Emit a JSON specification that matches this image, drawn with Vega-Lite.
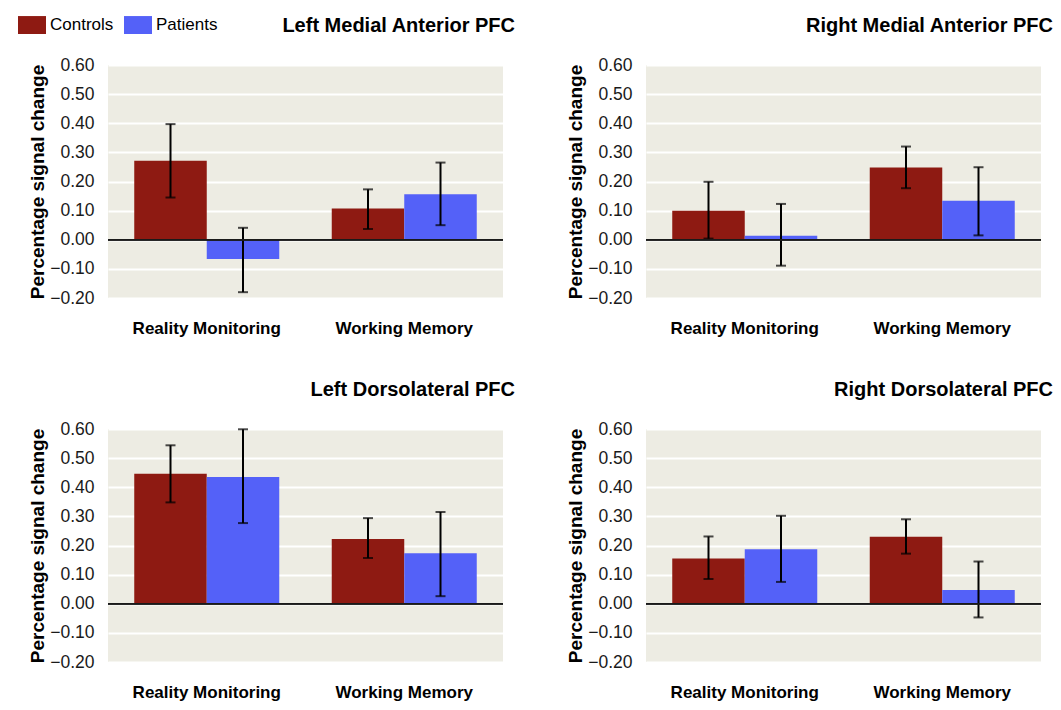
{
  "$schema": "https://vega.github.io/schema/vega-lite/v6.json",
  "padding": {"left": 18, "top": 11, "right": 0, "bottom": 5},
  "background": "white",
  "data": {"values": [
    {"panel": "LMA", "task": "Reality Monitoring", "group": "Controls", "value": 0.271, "lo": 0.145, "hi": 0.397},
    {"panel": "LMA", "task": "Reality Monitoring", "group": "Patients", "value": -0.066, "lo": -0.18, "hi": 0.041},
    {"panel": "LMA", "task": "Working Memory", "group": "Controls", "value": 0.107, "lo": 0.037, "hi": 0.173},
    {"panel": "LMA", "task": "Working Memory", "group": "Patients", "value": 0.156, "lo": 0.05, "hi": 0.265},
    {"panel": "RMA", "task": "Reality Monitoring", "group": "Controls", "value": 0.10, "lo": 0.004, "hi": 0.199},
    {"panel": "RMA", "task": "Reality Monitoring", "group": "Patients", "value": 0.014, "lo": -0.089, "hi": 0.123},
    {"panel": "RMA", "task": "Working Memory", "group": "Controls", "value": 0.248, "lo": 0.177, "hi": 0.32},
    {"panel": "RMA", "task": "Working Memory", "group": "Patients", "value": 0.134, "lo": 0.015, "hi": 0.249},
    {"panel": "LDL", "task": "Reality Monitoring", "group": "Controls", "value": 0.446, "lo": 0.348, "hi": 0.544},
    {"panel": "LDL", "task": "Reality Monitoring", "group": "Patients", "value": 0.435, "lo": 0.277, "hi": 0.599},
    {"panel": "LDL", "task": "Working Memory", "group": "Controls", "value": 0.222, "lo": 0.157, "hi": 0.294},
    {"panel": "LDL", "task": "Working Memory", "group": "Patients", "value": 0.173, "lo": 0.026, "hi": 0.315},
    {"panel": "RDL", "task": "Reality Monitoring", "group": "Controls", "value": 0.155, "lo": 0.085, "hi": 0.231},
    {"panel": "RDL", "task": "Reality Monitoring", "group": "Patients", "value": 0.187, "lo": 0.075, "hi": 0.302},
    {"panel": "RDL", "task": "Working Memory", "group": "Controls", "value": 0.23, "lo": 0.172, "hi": 0.29},
    {"panel": "RDL", "task": "Working Memory", "group": "Patients", "value": 0.047, "lo": -0.047, "hi": 0.145}
  ]},
  "columns": 2,
  "spacing": {"column": 143, "row": 131},
  "bounds": "flush",
  "resolve": {"scale": {"color": "shared"}, "legend": {"color": "shared"}},
  "concat": [
    {
      "title": "Left Medial Anterior PFC",
      "width": 395, "height": 233,
      "transform": [{"filter": "datum.panel === 'LMA'"}],
      "layer": [
        {"mark": {"type": "bar"},
         "encoding": {
           "x": {"field": "task", "type": "nominal", "title": null, "scale": {"paddingInner": 0, "paddingOuter": 0}},
           "xOffset": {"field": "group", "type": "nominal", "scale": {"paddingInner": 0, "paddingOuter": 0.362}},
           "y": {"field": "value", "type": "quantitative", "title": "Percentage signal change", "scale": {"domain": [-0.2, 0.6], "nice": false, "zero": false}},
           "color": {"field": "group", "type": "nominal", "scale": {"domain": ["Controls", "Patients"], "range": ["#8E1A12", "#5461F8"]}}
         }},
        {"mark": {"type": "rule", "color": "black", "strokeWidth": 2},
         "encoding": {
           "x": {"field": "task", "type": "nominal", "title": null},
           "xOffset": {"field": "group", "type": "nominal"},
           "y": {"field": "lo", "type": "quantitative", "title": "Percentage signal change"},
           "y2": {"field": "hi"}
         }},
        {"mark": {"type": "tick", "color": "black", "thickness": 2, "size": 10, "orient": "horizontal"},
         "encoding": {
           "x": {"field": "task", "type": "nominal", "title": null},
           "xOffset": {"field": "group", "type": "nominal"},
           "y": {"field": "lo", "type": "quantitative", "title": "Percentage signal change"}
         }},
        {"mark": {"type": "tick", "color": "black", "thickness": 2, "size": 10, "orient": "horizontal"},
         "encoding": {
           "x": {"field": "task", "type": "nominal", "title": null},
           "xOffset": {"field": "group", "type": "nominal"},
           "y": {"field": "hi", "type": "quantitative", "title": "Percentage signal change"}
         }},
        {"mark": {"type": "rule", "color": "#1a1a1a", "strokeWidth": 1.5},
         "encoding": {"y": {"datum": 0, "type": "quantitative", "title": "Percentage signal change"}}}
      ]
    },
    {
      "title": "Right Medial Anterior PFC",
      "width": 395, "height": 233,
      "transform": [{"filter": "datum.panel === 'RMA'"}],
      "layer": [
        {"mark": {"type": "bar"},
         "encoding": {
           "x": {"field": "task", "type": "nominal", "title": null, "scale": {"paddingInner": 0, "paddingOuter": 0}},
           "xOffset": {"field": "group", "type": "nominal", "scale": {"paddingInner": 0, "paddingOuter": 0.362}},
           "y": {"field": "value", "type": "quantitative", "title": "Percentage signal change", "scale": {"domain": [-0.2, 0.6], "nice": false, "zero": false}},
           "color": {"field": "group", "type": "nominal", "scale": {"domain": ["Controls", "Patients"], "range": ["#8E1A12", "#5461F8"]}}
         }},
        {"mark": {"type": "rule", "color": "black", "strokeWidth": 2},
         "encoding": {
           "x": {"field": "task", "type": "nominal", "title": null},
           "xOffset": {"field": "group", "type": "nominal"},
           "y": {"field": "lo", "type": "quantitative", "title": "Percentage signal change"},
           "y2": {"field": "hi"}
         }},
        {"mark": {"type": "tick", "color": "black", "thickness": 2, "size": 10, "orient": "horizontal"},
         "encoding": {
           "x": {"field": "task", "type": "nominal", "title": null},
           "xOffset": {"field": "group", "type": "nominal"},
           "y": {"field": "lo", "type": "quantitative", "title": "Percentage signal change"}
         }},
        {"mark": {"type": "tick", "color": "black", "thickness": 2, "size": 10, "orient": "horizontal"},
         "encoding": {
           "x": {"field": "task", "type": "nominal", "title": null},
           "xOffset": {"field": "group", "type": "nominal"},
           "y": {"field": "hi", "type": "quantitative", "title": "Percentage signal change"}
         }},
        {"mark": {"type": "rule", "color": "#1a1a1a", "strokeWidth": 1.5},
         "encoding": {"y": {"datum": 0, "type": "quantitative", "title": "Percentage signal change"}}}
      ]
    },
    {
      "title": "Left Dorsolateral PFC",
      "width": 395, "height": 233,
      "transform": [{"filter": "datum.panel === 'LDL'"}],
      "layer": [
        {"mark": {"type": "bar"},
         "encoding": {
           "x": {"field": "task", "type": "nominal", "title": null, "scale": {"paddingInner": 0, "paddingOuter": 0}},
           "xOffset": {"field": "group", "type": "nominal", "scale": {"paddingInner": 0, "paddingOuter": 0.362}},
           "y": {"field": "value", "type": "quantitative", "title": "Percentage signal change", "scale": {"domain": [-0.2, 0.6], "nice": false, "zero": false}},
           "color": {"field": "group", "type": "nominal", "scale": {"domain": ["Controls", "Patients"], "range": ["#8E1A12", "#5461F8"]}}
         }},
        {"mark": {"type": "rule", "color": "black", "strokeWidth": 2},
         "encoding": {
           "x": {"field": "task", "type": "nominal", "title": null},
           "xOffset": {"field": "group", "type": "nominal"},
           "y": {"field": "lo", "type": "quantitative", "title": "Percentage signal change"},
           "y2": {"field": "hi"}
         }},
        {"mark": {"type": "tick", "color": "black", "thickness": 2, "size": 10, "orient": "horizontal"},
         "encoding": {
           "x": {"field": "task", "type": "nominal", "title": null},
           "xOffset": {"field": "group", "type": "nominal"},
           "y": {"field": "lo", "type": "quantitative", "title": "Percentage signal change"}
         }},
        {"mark": {"type": "tick", "color": "black", "thickness": 2, "size": 10, "orient": "horizontal"},
         "encoding": {
           "x": {"field": "task", "type": "nominal", "title": null},
           "xOffset": {"field": "group", "type": "nominal"},
           "y": {"field": "hi", "type": "quantitative", "title": "Percentage signal change"}
         }},
        {"mark": {"type": "rule", "color": "#1a1a1a", "strokeWidth": 1.5},
         "encoding": {"y": {"datum": 0, "type": "quantitative", "title": "Percentage signal change"}}}
      ]
    },
    {
      "title": "Right Dorsolateral PFC",
      "width": 395, "height": 233,
      "transform": [{"filter": "datum.panel === 'RDL'"}],
      "layer": [
        {"mark": {"type": "bar"},
         "encoding": {
           "x": {"field": "task", "type": "nominal", "title": null, "scale": {"paddingInner": 0, "paddingOuter": 0}},
           "xOffset": {"field": "group", "type": "nominal", "scale": {"paddingInner": 0, "paddingOuter": 0.362}},
           "y": {"field": "value", "type": "quantitative", "title": "Percentage signal change", "scale": {"domain": [-0.2, 0.6], "nice": false, "zero": false}},
           "color": {"field": "group", "type": "nominal", "scale": {"domain": ["Controls", "Patients"], "range": ["#8E1A12", "#5461F8"]}}
         }},
        {"mark": {"type": "rule", "color": "black", "strokeWidth": 2},
         "encoding": {
           "x": {"field": "task", "type": "nominal", "title": null},
           "xOffset": {"field": "group", "type": "nominal"},
           "y": {"field": "lo", "type": "quantitative", "title": "Percentage signal change"},
           "y2": {"field": "hi"}
         }},
        {"mark": {"type": "tick", "color": "black", "thickness": 2, "size": 10, "orient": "horizontal"},
         "encoding": {
           "x": {"field": "task", "type": "nominal", "title": null},
           "xOffset": {"field": "group", "type": "nominal"},
           "y": {"field": "lo", "type": "quantitative", "title": "Percentage signal change"}
         }},
        {"mark": {"type": "tick", "color": "black", "thickness": 2, "size": 10, "orient": "horizontal"},
         "encoding": {
           "x": {"field": "task", "type": "nominal", "title": null},
           "xOffset": {"field": "group", "type": "nominal"},
           "y": {"field": "hi", "type": "quantitative", "title": "Percentage signal change"}
         }},
        {"mark": {"type": "rule", "color": "#1a1a1a", "strokeWidth": 1.5},
         "encoding": {"y": {"datum": 0, "type": "quantitative", "title": "Percentage signal change"}}}
      ]
    }
  ],
  "config": {
    "font": "Liberation Sans",
    "view": {"fill": "#EDECE3", "stroke": null},
    "bar": {"opacity": 1},
    "title": {"anchor": "end", "frame": "group", "fontSize": 20, "fontWeight": "bold", "color": "black", "offset": 20, "dx": 12},
    "axisX": {"domain": false, "ticks": false, "tickSize": 0, "grid": false, "labelFontSize": 17, "labelFontWeight": "bold", "labelColor": "black", "labelPadding": 22, "labelAngle": 0, "labelLimit": 300},
    "axisY": {"domain": false, "ticks": false, "tickSize": 0, "grid": true, "gridColor": "white", "gridWidth": 2, "values": [-0.2, -0.1, 0, 0.1, 0.2, 0.3, 0.4, 0.5, 0.6], "format": ".2f", "labelFontSize": 17.5, "labelColor": "#1a1a1a", "labelPadding": 14, "titleFontSize": 19, "titleFontWeight": "bold", "titleColor": "black", "titlePadding": 2},
    "legend": {"orient": "none", "legendX": -90, "legendY": -54, "direction": "horizontal", "title": null, "symbolType": "M-1,-0.64H1V0.64H-1Z", "symbolSize": 784, "symbolStrokeWidth": 0, "symbolOpacity": 1, "labelFontSize": 17, "labelColor": "black", "labelOffset": 4, "columnPadding": 10, "padding": 0}
  }
}
